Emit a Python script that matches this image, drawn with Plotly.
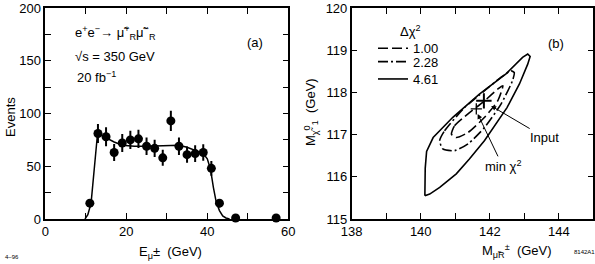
import plotly.graph_objects as go

# ---------------- panel (a) data ----------------
e_mu = [11, 13, 15, 17, 19, 21, 23, 25, 27, 29, 31, 33, 35, 37, 39, 41, 43, 47, 57]
events = [15, 81, 78, 63, 72, 75, 76, 69, 67, 58, 93, 69, 61, 62, 63, 48, 15, 1, 1]
events_err = [4, 9, 9, 8, 8.5, 8.7, 8.7, 8.3, 8.2, 7.6, 9.6, 8.3, 7.8, 7.9, 7.9, 7, 4, 1, 1]

fit_x = [9.8, 10.5, 11.3, 12.0, 12.5, 12.9, 13.5, 15, 17, 19, 22, 25, 30, 33, 35, 37,
         39, 40, 40.8, 41.5, 42.2, 43.0, 43.8, 44.6, 45.5]
fit_y = [0, 4, 15, 45, 70, 81, 80, 77, 73, 70, 69, 69, 69.5, 70, 68, 65,
         62, 57, 47, 30, 16, 8, 3, 1, 0]

# ---------------- panel (b) data ----------------
dchi2_labels = ["1.00", "2.28", "4.61"]

c100_x = [140.89, 140.98, 141.37, 141.85, 142.23, 142.38, 142.23, 141.85, 141.37, 141.03, 140.89]
c100_y = [117.01, 117.21, 117.49, 117.80, 118.08, 118.16, 117.80, 117.41, 117.05, 116.93, 117.01]

c228_x = [140.55, 140.69, 141.27, 141.85, 142.33, 142.62, 142.71, 142.66, 142.33, 141.85,
          141.37, 140.98, 140.64, 140.55]
c228_y = [116.86, 117.09, 117.64, 118.04, 118.36, 118.51, 118.47, 118.28, 117.73, 117.17,
          116.78, 116.62, 116.66, 116.86]

c461_x = [140.12, 140.13, 140.17, 140.36, 140.93, 141.70, 142.47, 142.95, 143.10, 143.17,
          143.10, 142.86, 142.50, 142.18, 141.85, 141.41, 141.03, 140.55, 140.26, 140.12]
c461_y = [115.55, 116.2, 116.6, 116.93, 117.41, 117.96, 118.44, 118.83, 118.91, 118.85,
          118.67, 118.2, 117.64, 117.25, 116.86, 116.42, 116.07, 115.75, 115.59, 115.55]

input_pt = (141.83, 117.80)
minchi_pt = (141.61, 117.61)

FONT = "Liberation Sans, Arial, Helvetica, sans-serif"
FS = 13

fig = go.Figure()

fig.add_trace(go.Scatter(x=fit_x, y=fit_y, mode="lines", line=dict(color="black", width=1.5),
                         showlegend=False, xaxis="x", yaxis="y", cliponaxis=False))
fig.add_trace(go.Scatter(x=e_mu, y=events, mode="markers",
                         marker=dict(color="black", size=9),
                         error_y=dict(type="data", array=events_err, color="black",
                                      thickness=2, width=0),
                         showlegend=False, xaxis="x", yaxis="y", cliponaxis=False))

dashes = ["10px,4px", "10px,3px,2px,3px", "solid"]
shapes_ = ["spline", "spline", "linear"]
legends = ["legend", "legend2", "legend3"]
for lab, cx, cy, d, sh, lg in zip(dchi2_labels, [c100_x, c228_x, c461_x],
                                  [c100_y, c228_y, c461_y], dashes, shapes_, legends):
    fig.add_trace(go.Scatter(x=cx, y=cy, mode="lines", name=lab, legend=lg,
                             line=dict(color="black", width=1.6, dash=d, shape=sh, smoothing=0.6),
                             xaxis="x2", yaxis="y2"))

fig.add_trace(go.Scatter(x=[input_pt[0]], y=[input_pt[1]], mode="markers",
                         marker=dict(symbol="cross-thin", size=11, line=dict(color="black", width=2)),
                         showlegend=False, xaxis="x2", yaxis="y2"))
fig.add_trace(go.Scatter(x=[minchi_pt[0]], y=[minchi_pt[1]], mode="markers",
                         marker=dict(symbol="cross-thin", size=8, line=dict(color="black", width=1.3)),
                         showlegend=False, xaxis="x2", yaxis="y2"))

axis_common = dict(showline=True, linecolor="black", linewidth=1.5, mirror="allticks",
                   ticks="inside", ticklen=6, tickwidth=1, tickcolor="black",
                   showgrid=False, zeroline=False, automargin=False,
                   tickfont=dict(size=FS, color="black"))

xa_vals = list(range(0, 61, 10))
ya_vals = list(range(0, 201, 25))
xb_vals = list(range(138, 146))
yb_vals = list(range(115, 121))


def py(pix):
    """pixel row -> paper y (plot area spans rows 8..219)"""
    return (219 - pix) / 211


def px(pix):
    return pix / 595


leg_common = dict(xanchor="left", yanchor="middle", bgcolor="rgba(0,0,0,0)",
                  font=dict(size=FS), borderwidth=0)

fig.update_layout(
    width=595, height=264,
    margin=dict(l=0, r=0, t=8, b=45, pad=0, autoexpand=False),
    paper_bgcolor="white", plot_bgcolor="white",
    font=dict(family=FONT, size=FS, color="black"),
    showlegend=True,
    xaxis=dict(domain=[px(45.3), px(288.3)], range=[0, 60], tickvals=xa_vals,
               ticktext=[str(v) if v % 20 == 0 else "" for v in xa_vals],
               anchor="y", **axis_common),
    yaxis=dict(domain=[0, 1], range=[0, 200], tickvals=ya_vals,
               ticktext=[str(v) if v % 50 == 0 else "" for v in ya_vals],
               anchor="x", **axis_common),
    xaxis2=dict(domain=[px(351.7), px(593.3)], range=[138, 145], tickvals=xb_vals,
                ticktext=[str(v) if v % 2 == 0 else "" for v in xb_vals],
                anchor="y2", **axis_common),
    yaxis2=dict(domain=[0, 1], range=[115, 120], tickvals=yb_vals,
                ticktext=[str(v) for v in yb_vals],
                anchor="x2", **axis_common),
    legend=dict(x=px(373), y=py(48.3), **leg_common),
    legend2=dict(x=px(373), y=py(61.7), **leg_common),
    legend3=dict(x=px(373), y=py(79), **leg_common),
)

C = dict(xanchor="center", yanchor="middle", showarrow=False)
ann = [
    # axis titles
    dict(x=px(10), y=py(117), xref="paper", yref="paper", text="Events", textangle=-90,
         font=dict(size=FS), **C),
    dict(x=px(170), y=py(252), xref="paper", yref="paper", text="E<sub>μ</sub>±  (GeV)",
         font=dict(size=FS), **C),
    dict(x=px(311), y=py(112), xref="paper", yref="paper",
         text="M<sub>χ̃</sub><sup>0</sup><sub>1</sub>  (GeV)", textangle=-90,
         font=dict(size=FS), **C),
    dict(x=px(517), y=py(251), xref="paper", yref="paper",
         text="M<sub>μ̃R</sub><sup>±</sup>  (GeV)", font=dict(size=FS), **C),
    # panel texts
    dict(x=6.8, y=176.6, xref="x", yref="y",
         text="e<sup>+</sup>e<sup>−</sup>→ μ̃<sup>+</sup><sub>R</sub>μ̃<sup>−</sup><sub>R</sub>",
         showarrow=False, xanchor="left", yanchor="middle", font=dict(size=FS)),
    dict(x=6.8, y=153.8, xref="x", yref="y", text="√s = 350 GeV", showarrow=False,
         xanchor="left", yanchor="middle", font=dict(size=FS)),
    dict(x=7.3, y=134.8, xref="x", yref="y", text="20 fb<sup>−1</sup>", showarrow=False,
         xanchor="left", yanchor="middle", font=dict(size=FS)),
    dict(x=51.7, y=167, xref="x", yref="y", text="(a)", font=dict(size=FS), **C),
    dict(x=143.91, y=119.15, xref="x2", yref="y2", text="(b)", font=dict(size=FS), **C),
    dict(x=px(410), y=py(31), xref="paper", yref="paper", text="Δχ<sup>2</sup>",
         font=dict(size=FS), **C),
    dict(x=142.04, y=117.68, xref="x2", yref="y2", ax=143.6, ay=116.93, axref="x2", ayref="y2",
         text="Input", showarrow=True, arrowhead=2, arrowsize=1, arrowwidth=1, arrowcolor="black",
         font=dict(size=FS)),
    dict(x=141.65, y=117.49, xref="x2", yref="y2", ax=142.37, ay=116.26, axref="x2", ayref="y2",
         text="min χ<sup>2</sup>", showarrow=True, arrowhead=2, arrowsize=1, arrowwidth=1,
         arrowcolor="black", font=dict(size=FS)),
    # plate codes
    dict(x=px(12), y=py(257), xref="paper", yref="paper", text="4–96", font=dict(size=6), **C),
    dict(x=px(584), y=py(252), xref="paper", yref="paper", text="8142A1", font=dict(size=6), **C),
]
fig.update_layout(annotations=ann)

fig.write_html("out.html", config={"displayModeBar": False},
               post_script="document.body.style.margin='0';document.body.style.overflow='hidden';")
